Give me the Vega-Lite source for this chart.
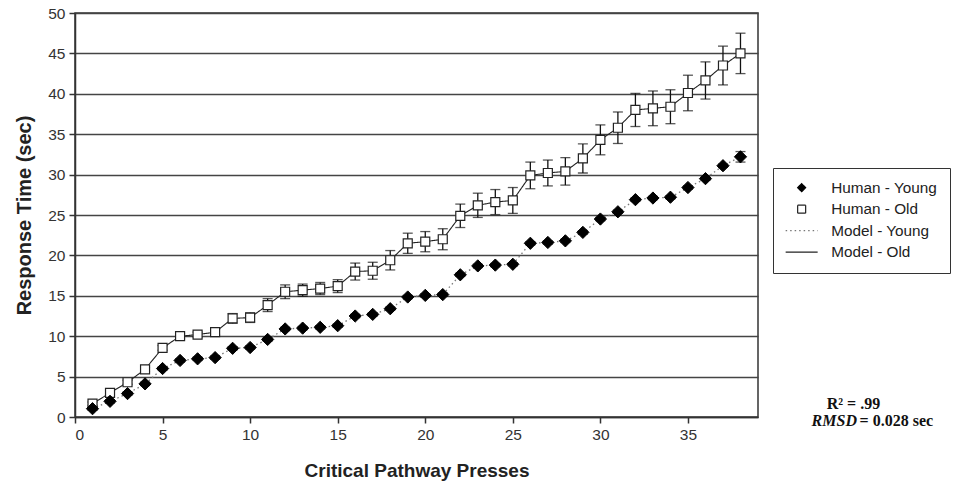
{
  "$schema": "https://vega.github.io/schema/vega-lite/v6.json",
  "width": 683,
  "height": 404,
  "autosize": {"type": "none"},
  "padding": {"left": 75, "top": 13, "right": 195, "bottom": 69},
  "background": "white",
  "config": {
    "font": "Liberation Sans",
    "view": {"stroke": "#333", "strokeWidth": 1.5},
    "axis": {
      "labelFont": "Liberation Sans",
      "labelFontSize": 15.5,
      "labelColor": "#333",
      "titleFont": "Liberation Sans",
      "titleFontWeight": "bold",
      "titleColor": "#222",
      "tickColor": "#333",
      "tickSize": 6,
      "tickWidth": 1.5,
      "domainColor": "#333",
      "domainWidth": 1.5,
      "labelPadding": 4
    },
    "axisX": {"grid": false, "titleFontSize": 19, "titlePadding": 19},
    "axisY": {"grid": true, "gridColor": "#444", "gridWidth": 1.5, "tickCount": 10, "titleFontSize": 20, "titlePadding": 13},
    "legend": {
      "orient": "none",
      "legendX": 698,
      "legendY": 155,
      "strokeColor": "#333",
      "fillColor": "white",
      "padding": 12,
      "labelFont": "Liberation Sans",
      "labelFontSize": 15.3,
      "labelColor": "#222",
      "symbolSize": 64,
      "symbolStrokeWidth": 1.2,
      "rowPadding": 5.5,
      "symbolOffset": 9,
      "labelOffset": 22
    }
  },
  "datasets": {
    "notes": [
      {"t": "R² = .99", "ax": 44.45, "ay": 1.6, "k": "r2"},
      {"t": "RMSD", "ax": 44.65, "ay": -0.5, "k": "rmsd"},
      {"t": "= 0.028 sec", "ax": 44.8, "ay": -0.5, "k": "val"}
    ]
  },
  "data": {
    "values": [
      {"p": 1, "hy": 1.03, "hyE": 0.2, "ho": 1.65, "hoE": 0.2, "my": 1.03, "mo": 1.65},
      {"p": 2, "hy": 1.94, "hyE": 0.2, "ho": 2.98, "hoE": 0.2, "my": 1.94, "mo": 2.98},
      {"p": 3, "hy": 2.9, "hyE": 0.2, "ho": 4.3, "hoE": 0.25, "my": 2.9, "mo": 4.3},
      {"p": 4, "hy": 4.1, "hyE": 0.2, "ho": 5.9, "hoE": 0.25, "my": 4.1, "mo": 5.9},
      {"p": 5, "hy": 6.0, "hyE": 0.2, "ho": 8.55, "hoE": 0.3, "my": 6.0, "mo": 8.55},
      {"p": 6, "hy": 7.0, "hyE": 0.2, "ho": 10.0, "hoE": 0.3, "my": 7.0, "mo": 10.0},
      {"p": 7, "hy": 7.2, "hyE": 0.2, "ho": 10.2, "hoE": 0.3, "my": 7.2, "mo": 10.2},
      {"p": 8, "hy": 7.35, "hyE": 0.2, "ho": 10.5, "hoE": 0.35, "my": 7.35, "mo": 10.5},
      {"p": 9, "hy": 8.5, "hyE": 0.2, "ho": 12.2, "hoE": 0.6, "my": 8.5, "mo": 12.2},
      {"p": 10, "hy": 8.6, "hyE": 0.2, "ho": 12.3, "hoE": 0.6, "my": 8.6, "mo": 12.3},
      {"p": 11, "hy": 9.6, "hyE": 0.2, "ho": 13.85, "hoE": 0.8, "my": 9.6, "mo": 13.85},
      {"p": 12, "hy": 10.9, "hyE": 0.2, "ho": 15.5, "hoE": 0.85, "my": 10.9, "mo": 15.5},
      {"p": 13, "hy": 11.0, "hyE": 0.2, "ho": 15.7, "hoE": 0.75, "my": 11.0, "mo": 15.7},
      {"p": 14, "hy": 11.1, "hyE": 0.2, "ho": 15.9, "hoE": 0.75, "my": 11.1, "mo": 15.9},
      {"p": 15, "hy": 11.3, "hyE": 0.2, "ho": 16.2, "hoE": 0.8, "my": 11.3, "mo": 16.2},
      {"p": 16, "hy": 12.5, "hyE": 0.2, "ho": 18.0, "hoE": 1.05, "my": 12.5, "mo": 18.0},
      {"p": 17, "hy": 12.7, "hyE": 0.2, "ho": 18.1, "hoE": 1.05, "my": 12.7, "mo": 18.1},
      {"p": 18, "hy": 13.4, "hyE": 0.2, "ho": 19.4, "hoE": 1.2, "my": 13.4, "mo": 19.4},
      {"p": 19, "hy": 14.85, "hyE": 0.2, "ho": 21.5, "hoE": 1.25, "my": 14.85, "mo": 21.5},
      {"p": 20, "hy": 15.05, "hyE": 0.2, "ho": 21.7, "hoE": 1.25, "my": 15.05, "mo": 21.7},
      {"p": 21, "hy": 15.15, "hyE": 0.2, "ho": 22.0, "hoE": 1.3, "my": 15.15, "mo": 22.0},
      {"p": 22, "hy": 17.6, "hyE": 0.2, "ho": 24.9, "hoE": 1.45, "my": 17.6, "mo": 24.9},
      {"p": 23, "hy": 18.7, "hyE": 0.2, "ho": 26.2, "hoE": 1.5, "my": 18.7, "mo": 26.2},
      {"p": 24, "hy": 18.8, "hyE": 0.2, "ho": 26.6, "hoE": 1.55, "my": 18.8, "mo": 26.6},
      {"p": 25, "hy": 18.9, "hyE": 0.2, "ho": 26.8, "hoE": 1.6, "my": 18.9, "mo": 26.8},
      {"p": 26, "hy": 21.5, "hyE": 0.2, "ho": 29.9, "hoE": 1.65, "my": 21.5, "mo": 29.9},
      {"p": 27, "hy": 21.6, "hyE": 0.2, "ho": 30.2, "hoE": 1.6, "my": 21.6, "mo": 30.2},
      {"p": 28, "hy": 21.8, "hyE": 0.2, "ho": 30.4, "hoE": 1.7, "my": 21.8, "mo": 30.4},
      {"p": 29, "hy": 22.85, "hyE": 0.2, "ho": 32.0, "hoE": 1.8, "my": 22.85, "mo": 32.0},
      {"p": 30, "hy": 24.5, "hyE": 0.2, "ho": 34.3, "hoE": 1.85, "my": 24.5, "mo": 34.3},
      {"p": 31, "hy": 25.4, "hyE": 0.2, "ho": 35.8, "hoE": 1.95, "my": 25.4, "mo": 35.8},
      {"p": 32, "hy": 26.9, "hyE": 0.2, "ho": 38.0, "hoE": 2.05, "my": 26.9, "mo": 38.0},
      {"p": 33, "hy": 27.1, "hyE": 0.2, "ho": 38.2, "hoE": 2.15, "my": 27.1, "mo": 38.2},
      {"p": 34, "hy": 27.2, "hyE": 0.2, "ho": 38.4, "hoE": 2.1, "my": 27.2, "mo": 38.4},
      {"p": 35, "hy": 28.4, "hyE": 0.2, "ho": 40.1, "hoE": 2.2, "my": 28.4, "mo": 40.1},
      {"p": 36, "hy": 29.5, "hyE": 0.2, "ho": 41.65, "hoE": 2.3, "my": 29.5, "mo": 41.65},
      {"p": 37, "hy": 31.1, "hyE": 0.2, "ho": 43.5, "hoE": 2.4, "my": 31.1, "mo": 43.5},
      {"p": 38, "hy": 32.2, "hyE": 0.65, "ho": 45.0, "hoE": 2.5, "my": 32.2, "mo": 45.0}
    ]
  },
  "encoding": {
    "x": {
      "field": "p",
      "type": "quantitative",
      "title": "Critical Pathway Presses",
      "scale": {"domain": [0, 39], "nice": false, "zero": false},
      "axis": {"values": [0, 5, 10, 15, 20, 25, 30, 35]}
    }
  },
  "layer": [
    {
      "mark": {"type": "line", "strokeWidth": 1.3},
      "encoding": {
        "y": {"field": "my", "type": "quantitative", "title": "Response Time (sec)", "scale": {"domain": [0, 50], "nice": false}},
        "stroke": {
          "datum": "Model - Young",
          "scale": {"domain": ["Human - Young", "Human - Old", "Model - Young", "Model - Old"], "range": ["black", "#222", "#777", "#222"]},
          "legend": {"title": null}
        },
        "strokeDash": {
          "datum": "Model - Young",
          "scale": {"domain": ["Human - Young", "Human - Old", "Model - Young", "Model - Old"], "range": [[1, 0], [1, 0], [1.5, 3], [1, 0]]},
          "legend": {"title": null}
        }
      }
    },
    {
      "mark": {"type": "line", "strokeWidth": 1.1},
      "encoding": {
        "y": {"field": "mo", "type": "quantitative", "title": "Response Time (sec)", "scale": {"domain": [0, 50], "nice": false}},
        "stroke": {"datum": "Model - Old", "legend": {"title": null}},
        "strokeDash": {"datum": "Model - Old", "legend": {"title": null}}
      }
    },
    {
      "mark": {"type": "errorbar", "color": "#111", "ticks": {"size": 10, "thickness": 1.3}, "rule": {"strokeWidth": 1.3}},
      "encoding": {
        "y": {"field": "ho", "type": "quantitative", "title": "Response Time (sec)", "scale": {"domain": [0, 50], "nice": false}},
        "yError": {"field": "hoE"}
      }
    },
    {
      "mark": {"type": "errorbar", "color": "#111", "ticks": {"size": 10, "thickness": 1.3}, "rule": {"strokeWidth": 1.3}},
      "encoding": {
        "y": {"field": "hy", "type": "quantitative", "title": "Response Time (sec)", "scale": {"domain": [0, 50], "nice": false}},
        "yError": {"field": "hyE"}
      }
    },
    {
      "mark": {"type": "point", "filled": true, "strokeWidth": 1.2, "opacity": 1, "size": 81},
      "encoding": {
        "y": {"field": "ho", "type": "quantitative", "title": "Response Time (sec)", "scale": {"domain": [0, 50], "nice": false}},
        "shape": {
          "datum": "Human - Old",
          "scale": {
            "domain": ["Human - Young", "Human - Old", "Model - Young", "Model - Old"],
            "range": ["diamond", "square", "M-4,0H4", "M-4,0H4"]
          },
          "legend": {"title": null}
        },
        "fill": {
          "datum": "Human - Old",
          "scale": {"domain": ["Human - Young", "Human - Old", "Model - Young", "Model - Old"], "range": ["black", "white", "white", "white"]},
          "legend": {"title": null}
        },
        "stroke": {"datum": "Human - Old", "legend": {"title": null}}
      }
    },
    {
      "mark": {"type": "point", "filled": true, "strokeWidth": 1, "opacity": 1, "size": 150},
      "encoding": {
        "y": {"field": "hy", "type": "quantitative", "title": "Response Time (sec)", "scale": {"domain": [0, 50], "nice": false}},
        "shape": {"datum": "Human - Young", "legend": {"title": null}},
        "fill": {"datum": "Human - Young", "legend": {"title": null}},
        "stroke": {"datum": "Human - Young", "legend": {"title": null}}
      }
    },
    {
      "data": {"name": "notes"},
      "transform": [{"filter": "datum.k === 'r2'"}],
      "mark": {"type": "text", "font": "Liberation Serif", "fontWeight": "bold", "fontSize": 16, "baseline": "middle", "align": "center", "color": "#111"},
      "encoding": {
        "x": {"field": "ax", "type": "quantitative", "title": "Critical Pathway Presses", "scale": {"domain": [0, 39], "nice": false, "zero": false}},
        "y": {"field": "ay", "type": "quantitative", "title": "Response Time (sec)", "scale": {"domain": [0, 50], "nice": false}},
        "text": {"field": "t"}
      }
    },
    {
      "data": {"name": "notes"},
      "transform": [{"filter": "datum.k === 'rmsd'"}],
      "mark": {"type": "text", "font": "Liberation Serif", "fontWeight": "bold", "fontStyle": "italic", "fontSize": 16, "baseline": "middle", "align": "right", "color": "#111"},
      "encoding": {
        "x": {"field": "ax", "type": "quantitative", "title": "Critical Pathway Presses", "scale": {"domain": [0, 39], "nice": false, "zero": false}},
        "y": {"field": "ay", "type": "quantitative", "title": "Response Time (sec)", "scale": {"domain": [0, 50], "nice": false}},
        "text": {"field": "t"}
      }
    },
    {
      "data": {"name": "notes"},
      "transform": [{"filter": "datum.k === 'val'"}],
      "mark": {"type": "text", "font": "Liberation Serif", "fontWeight": "bold", "fontSize": 16, "baseline": "middle", "align": "left", "color": "#111"},
      "encoding": {
        "x": {"field": "ax", "type": "quantitative", "title": "Critical Pathway Presses", "scale": {"domain": [0, 39], "nice": false, "zero": false}},
        "y": {"field": "ay", "type": "quantitative", "title": "Response Time (sec)", "scale": {"domain": [0, 50], "nice": false}},
        "text": {"field": "t"}
      }
    }
  ]
}
